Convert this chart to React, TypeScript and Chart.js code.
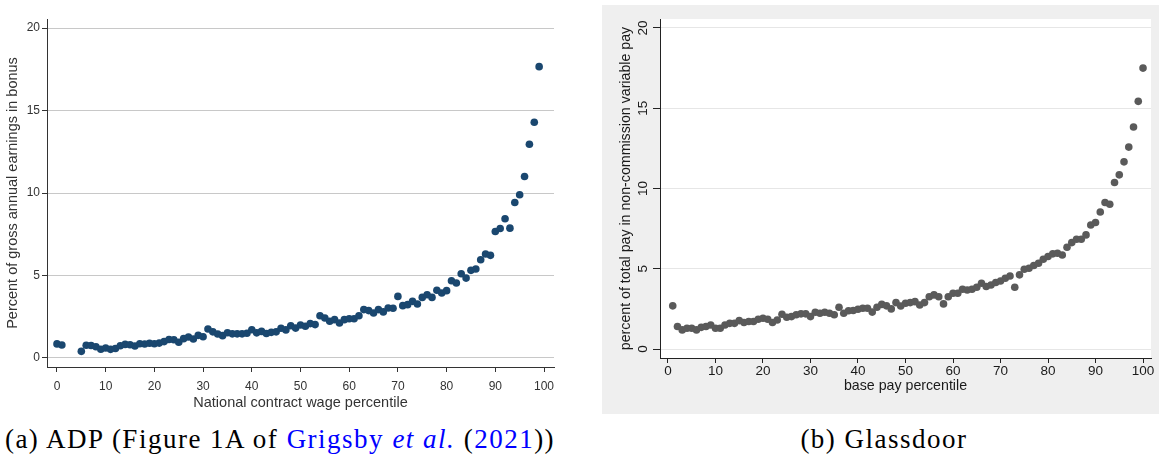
import React, { useEffect, useRef } from "react";
import { Chart, registerables } from "chart.js";

Chart.register(...registerables);

// ---------- Data: panel (a) ADP ----------
const adpPercentiles = [
  0, 1, 5, 6, 7, 8, 9, 10, 11, 12, 13, 14, 15, 16, 17, 18, 19, 20, 21, 22, 23, 24,
  25, 26, 27, 28, 29, 30, 31, 32, 33, 34, 35, 36, 37, 38, 39, 40, 41, 42, 43, 44,
  45, 46, 47, 48, 49, 50, 51, 52, 53, 54, 55, 56, 57, 58, 59, 60, 61, 62, 63, 64,
  65, 66, 67, 68, 69, 70, 71, 72, 73, 74, 75, 76, 77, 78, 79, 80, 81, 82, 83, 84,
  85, 86, 87, 88, 89, 90, 91, 92, 93, 94, 95, 96, 97, 98, 99,
];
const adpBonusShare = [
  0.85, 0.78, 0.4, 0.77, 0.75, 0.68, 0.53, 0.6, 0.52, 0.57, 0.74, 0.82, 0.8, 0.72,
  0.86, 0.84, 0.89, 0.86, 0.9, 0.99, 1.12, 1.1, 0.95, 1.17, 1.27, 1.15, 1.37, 1.28,
  1.75, 1.58, 1.45, 1.35, 1.53, 1.46, 1.46, 1.46, 1.5, 1.71, 1.52, 1.61, 1.48, 1.55,
  1.58, 1.8, 1.7, 1.95, 1.81, 2.0, 1.92, 2.08, 2.02, 2.56, 2.42, 2.22, 2.32, 2.12,
  2.32, 2.38, 2.38, 2.56, 2.93, 2.87, 2.72, 2.93, 2.79, 3.03, 3.01, 3.73, 3.17, 3.23,
  3.43, 3.27, 3.67, 3.83, 3.67, 4.1, 3.94, 4.08, 4.68, 4.54, 5.1, 4.84, 5.31, 5.39,
  5.95, 6.3, 6.22, 7.67, 7.85, 8.44, 7.87, 9.42, 9.89, 11.0, 12.96, 14.29, 17.66,
];

// ---------- Data: panel (b) Glassdoor ----------
const gdPercentiles = [
  1, 2, 3, 4, 5, 6, 7, 8, 9, 10, 11, 12, 13, 14, 15, 16, 17, 18, 19, 20, 21, 22, 23,
  24, 25, 26, 27, 28, 29, 30, 31, 32, 33, 34, 35, 36, 37, 38, 39, 40, 41, 42, 43, 44,
  45, 46, 47, 48, 49, 50, 51, 52, 53, 54, 55, 56, 57, 58, 59, 60, 61, 62, 63, 64, 65,
  66, 67, 68, 69, 70, 71, 72, 73, 74, 75, 76, 77, 78, 79, 80, 81, 82, 83, 84, 85, 86,
  87, 88, 89, 90, 91, 92, 93, 94, 95, 96, 97, 98, 99, 100,
];
const gdVariablePayShare = [
  2.69, 1.4, 1.19, 1.29, 1.29, 1.19, 1.35, 1.4, 1.5, 1.29, 1.29, 1.5, 1.6, 1.6, 1.77,
  1.65, 1.71, 1.71, 1.85, 1.92, 1.85, 1.65, 1.81, 2.17, 1.98, 2.02, 2.13, 2.19, 2.19,
  2.02, 2.29, 2.23, 2.29, 2.23, 2.13, 2.6, 2.23, 2.38, 2.4, 2.48, 2.54, 2.54, 2.3, 2.6,
  2.78, 2.69, 2.5, 2.89, 2.68, 2.85, 2.89, 2.95, 2.74, 2.89, 3.26, 3.37, 3.26, 2.81,
  3.26, 3.47, 3.47, 3.72, 3.68, 3.72, 3.85, 4.1, 3.89, 3.99, 4.14, 4.24, 4.41, 4.55,
  3.85, 4.62, 4.97, 5.03, 5.2, 5.34, 5.59, 5.76, 5.93, 5.97, 5.86, 6.34, 6.63, 6.84,
  6.84, 7.11, 7.73, 7.88, 8.54, 9.13, 9.02, 10.37, 10.85, 11.66, 12.58, 13.83, 15.43,
  17.5,
];

// ---------- Tick labels ----------
const xTickValues = [0, 10, 20, 30, 40, 50, 60, 70, 80, 90, 100];
const yTickValues = [0, 5, 10, 15, 20];

const SANS = '"Liberation Sans", Arial, Helvetica, sans-serif';

function toPoints(xs: number[], ys: number[]) {
  return xs.map((x, i) => ({ x, y: ys[i] }));
}

const panelBackground = {
  id: "panelBackground",
  beforeDraw(chart: any) {
    const { ctx, chartArea, width, height } = chart;
    ctx.save();
    ctx.fillStyle = "#efefef";
    ctx.fillRect(0, 0, width, height);
    ctx.fillStyle = "#ffffff";
    ctx.fillRect(
      chartArea.left,
      chartArea.top,
      chartArea.right - chartArea.left,
      chartArea.bottom - chartArea.top
    );
    ctx.restore();
  },
};

const rotatedYTicks = {
  id: "rotatedYTicks",
  afterDraw(chart: any) {
    const { ctx } = chart;
    const yScale = chart.scales.y;
    ctx.save();
    ctx.font = `13.5px ${SANS}`;
    ctx.fillStyle = "#1a1a1a";
    ctx.textAlign = "center";
    ctx.textBaseline = "middle";
    yTickValues.forEach((v) => {
      ctx.save();
      ctx.translate(chart.chartArea.left - 17, yScale.getPixelForValue(v));
      ctx.rotate(-Math.PI / 2);
      ctx.fillText(String(v), 0, 0);
      ctx.restore();
    });
    ctx.restore();
  },
};

function AdpChart() {
  const ref = useRef<HTMLCanvasElement | null>(null);
  useEffect(() => {
    if (!ref.current) return;
    const textColor = "#333333";
    const chart = new Chart(ref.current, {
      type: "scatter",
      data: {
        datasets: [
          {
            data: toPoints(adpPercentiles, adpBonusShare),
            backgroundColor: "#1a476f",
            borderColor: "#1a476f",
            pointRadius: 3.8,
            pointBorderWidth: 0,
          },
        ],
      },
      options: {
        animation: false,
        responsive: false,
        events: [],
        layout: { padding: { left: 4, top: 19, right: 6, bottom: 3 } },
        plugins: { legend: { display: false }, tooltip: { enabled: false } },
        scales: {
          x: {
            type: "linear",
            min: -2.05,
            max: 102.05,
            afterBuildTicks: (s: any) => {
              s.ticks = xTickValues.map((v) => ({ value: v }));
            },
            afterFit: (s: any) => {
              s.height = 45;
              s.paddingLeft = 0;
              s.paddingRight = 0;
            },
            grid: {
              drawOnChartArea: false,
              drawTicks: true,
              tickLength: 5,
              tickColor: "#333333",
              tickWidth: 1,
            },
            border: { display: true, color: "#333333", width: 1 },
            ticks: {
              autoSkip: false,
              maxRotation: 0,
              minRotation: 0,
              padding: 7,
              color: textColor,
              font: { family: SANS, size: 12 },
            },
            title: {
              display: true,
              text: "National contract wage percentile",
              color: textColor,
              font: { family: SANS, size: 14.5 },
              padding: { top: 0, bottom: 0 },
            },
          },
          y: {
            type: "linear",
            min: -0.55,
            max: 20.55,
            afterBuildTicks: (s: any) => {
              s.ticks = yTickValues.map((v) => ({ value: v }));
            },
            afterFit: (s: any) => {
              s.width = 43;
              s.paddingTop = 0;
              s.paddingBottom = 0;
            },
            grid: {
              drawOnChartArea: true,
              color: "#c8c8c8",
              lineWidth: 1,
              drawTicks: true,
              tickLength: 5,
              tickColor: "#333333",
              tickWidth: 1,
            },
            border: { display: true, color: "#333333", width: 1 },
            ticks: {
              autoSkip: false,
              padding: 2,
              color: textColor,
              font: { family: SANS, size: 12 },
            },
            title: {
              display: true,
              text: "Percent of gross annual earnings in bonus",
              color: textColor,
              font: { family: SANS, size: 14.5 },
              padding: { top: 0, bottom: 0 },
            },
          },
        },
      } as any,
    });
    return () => chart.destroy();
  }, []);
  return (
    <canvas
      ref={ref}
      width={560}
      height={415}
      style={{ position: "absolute", left: 0, top: 0, width: 560, height: 415 }}
    />
  );
}

function GlassdoorChart() {
  const ref = useRef<HTMLCanvasElement | null>(null);
  useEffect(() => {
    if (!ref.current) return;
    const textColor = "#1a1a1a";
    const chart = new Chart(ref.current, {
      type: "scatter",
      data: {
        datasets: [
          {
            data: toPoints(gdPercentiles, gdVariablePayShare),
            backgroundColor: "#5a5a5a",
            borderColor: "#5a5a5a",
            pointRadius: 3.8,
            pointBorderWidth: 0,
          },
        ],
      },
      options: {
        animation: false,
        responsive: false,
        events: [],
        layout: { padding: { left: 16, top: 14, right: 8, bottom: 19 } },
        plugins: { legend: { display: false }, tooltip: { enabled: false } },
        scales: {
          x: {
            type: "linear",
            min: -1.68,
            max: 101.68,
            afterBuildTicks: (s: any) => {
              s.ticks = xTickValues.map((v) => ({ value: v }));
            },
            afterFit: (s: any) => {
              s.height = 37;
              s.paddingLeft = 0;
              s.paddingRight = 0;
            },
            grid: {
              drawOnChartArea: false,
              drawTicks: true,
              tickLength: 5,
              tickColor: "#222222",
              tickWidth: 1,
            },
            border: { display: true, color: "#222222", width: 1 },
            ticks: {
              autoSkip: false,
              maxRotation: 0,
              minRotation: 0,
              padding: 0,
              color: textColor,
              font: { family: SANS, size: 13.5 },
            },
            title: {
              display: true,
              text: "base pay percentile",
              color: textColor,
              font: { family: SANS, size: 14.2 },
              padding: { top: 0, bottom: 0 },
            },
          },
          y: {
            type: "linear",
            min: -0.56,
            max: 20.56,
            afterBuildTicks: (s: any) => {
              s.ticks = yTickValues.map((v) => ({ value: v }));
            },
            afterFit: (s: any) => {
              s.width = 42;
              s.paddingTop = 0;
              s.paddingBottom = 0;
            },
            grid: {
              drawOnChartArea: true,
              color: "#e6e6e6",
              lineWidth: 1,
              drawTicks: true,
              tickLength: 7,
              tickColor: "#222222",
              tickWidth: 1,
            },
            border: { display: true, color: "#222222", width: 1 },
            ticks: {
              autoSkip: false,
              padding: 2,
              color: "rgba(0,0,0,0)",
              font: { family: SANS, size: 13.5 },
            },
            title: {
              display: true,
              text: "percent of total pay in non-commission variable pay",
              color: textColor,
              font: { family: SANS, size: 14.2 },
              padding: { top: 0, bottom: 0 },
            },
          },
        },
      } as any,
      plugins: [panelBackground, rotatedYTicks],
    });
    return () => chart.destroy();
  }, []);
  return (
    <canvas
      ref={ref}
      width={557}
      height={409}
      style={{ position: "absolute", left: 602, top: 5, width: 557, height: 409 }}
    />
  );
}

const captionStyle: React.CSSProperties = {
  position: "absolute",
  top: 426,
  width: 560,
  textAlign: "center",
  fontFamily: '"Liberation Serif", "Times New Roman", serif',
  fontSize: 27,
  lineHeight: "27px",
  letterSpacing: "1.5px",
  color: "#000",
  whiteSpace: "nowrap",
};

export default function App() {
  return (
    <div
      style={{
        position: "absolute",
        left: 0,
        top: 0,
        width: 1159,
        height: 460,
        background: "#ffffff",
        overflow: "hidden",
      }}
    >
      <AdpChart />
      <GlassdoorChart />
      <div style={{ ...captionStyle, left: 0 }}>
        (a) ADP (Figure 1A of{" "}
        <span style={{ color: "#0000ff" }}>
          Grigsby <i>et al.</i>
        </span>{" "}
        (<span style={{ color: "#0000ff" }}>2021</span>))
      </div>
      <div style={{ ...captionStyle, left: 604 }}>(b) Glassdoor</div>
    </div>
  );
}
